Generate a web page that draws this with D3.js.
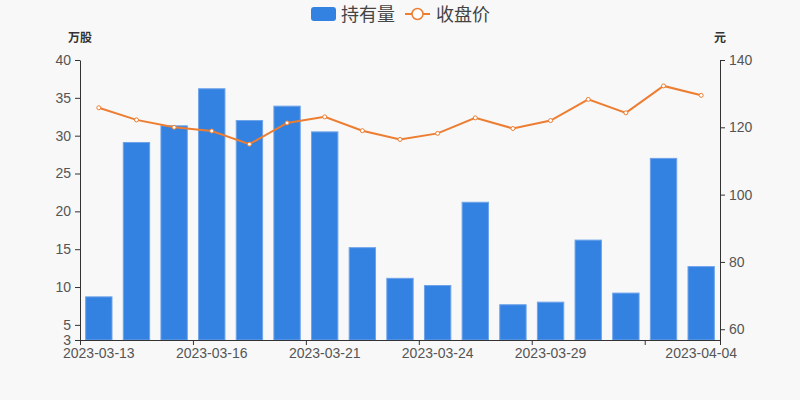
<!DOCTYPE html>
<html>
<head>
<meta charset="utf-8">
<script src="https://cdn.jsdelivr.net/npm/d3@7/dist/d3.min.js"></script>
<style>
  body { margin: 0; background: #f8f8f8; }
  svg { display: block; font-family: "Liberation Sans", "Noto Sans CJK SC", sans-serif; }
  .axis path, .axis line { stroke: #333; }
  .axis text { fill: #555; font-size: 14px; }
  .axisName { font-family: "Noto Sans CJK SC", sans-serif; font-size: 12px; font-weight: bold; fill: #333; }
  .legend text { font-family: "Noto Sans CJK SC", sans-serif; font-size: 18px; fill: #444; }
</style>
</head>
<body>
<svg id="chart"></svg>
<script>
// data
var dates = ["2023-03-13","2023-03-14","2023-03-15","2023-03-16","2023-03-17","2023-03-20",
             "2023-03-21","2023-03-22","2023-03-23","2023-03-24","2023-03-27","2023-03-28",
             "2023-03-29","2023-03-30","2023-03-31","2023-04-03","2023-04-04"];
var holdings = [8.7, 29.1, 31.3, 36.2, 32.0, 33.9, 30.5, 15.2, 11.15, 10.2, 21.2, 7.66, 8.0, 16.2, 9.2, 27.0, 12.7];
var closePrice = [125.8, 122.2, 120.0, 118.9, 115.0, 121.3, 123.1, 119.0, 116.4, 118.2, 122.8, 119.65, 122.0, 128.3, 124.3, 132.3, 129.5];
var leftTicks = [3, 5, 10, 15, 20, 25, 30, 35, 40];
var rightTicks = [60, 80, 100, 120, 140];
var labelDates = ["2023-03-13","2023-03-16","2023-03-21","2023-03-24","2023-03-29","2023-04-04"];
var boundaryTicks = [0, 3, 6, 9, 12, 15, 17];

var W = 800, H = 400;
var margin = {top: 60, right: 80, bottom: 60, left: 80},
    w = W - margin.left - margin.right,
    h = H - margin.top - margin.bottom;

var svg = d3.select("#chart").attr("width", W).attr("height", H);
var g = svg.append("g").attr("transform", "translate(" + margin.left + "," + margin.top + ")");

var xScale = d3.scaleBand().domain(dates).range([0, w]).paddingInner(0.3).paddingOuter(0.15);
var xBound = d3.scaleLinear().domain([0, dates.length]).range([0, w]);
var yLeft = d3.scaleLinear().domain([3, 40]).range([h, 0]);
var yRight = d3.scaleLinear().domain([56.8, 140]).range([h, 0]);

// bars
g.selectAll("rect.bar")
  .data(holdings)
  .enter()
  .append("rect")
  .attr("class", "bar")
  .attr("x", function(d, i) { return xScale(dates[i]); })
  .attr("y", function(d) { return yLeft(d); })
  .attr("width", xScale.bandwidth())
  .attr("height", function(d) { return h - yLeft(d); })
  .style("fill", "#3382e2")
  .style("stroke", "#6ea3ea")
  .style("stroke-width", 1);

// x axis: ticks on category boundaries, labels on centres
g.append("g")
  .attr("class", "axis")
  .attr("transform", "translate(0," + h + ")")
  .call(d3.axisBottom(xBound).tickValues(boundaryTicks).tickFormat("").tickSize(5).tickSizeOuter(0));

var xLab = g.append("g")
  .attr("class", "axis")
  .attr("transform", "translate(0," + h + ")")
  .call(d3.axisBottom(xScale).tickValues(labelDates).tickSize(0).tickPadding(8));
xLab.select(".domain").remove();

// left axis
g.append("g")
  .attr("class", "axis")
  .call(d3.axisLeft(yLeft).tickValues(leftTicks).tickSize(5).tickSizeOuter(0).tickPadding(4));

// right axis
g.append("g")
  .attr("class", "axis")
  .attr("transform", "translate(" + w + ",0)")
  .call(d3.axisRight(yRight).tickValues(rightTicks).tickSize(5).tickSizeOuter(0).tickPadding(4));

// axis names
svg.append("text").attr("class", "axisName")
  .attr("x", margin.left).attr("y", 42).attr("text-anchor", "middle").text("万股");
svg.append("text").attr("class", "axisName")
  .attr("x", margin.left + w).attr("y", 42).attr("text-anchor", "middle").text("元");

// price line
var line = d3.line()
  .x(function(d, i) { return xScale(dates[i]) + xScale.bandwidth() / 2; })
  .y(function(d) { return yRight(d); });

g.append("path")
  .datum(closePrice)
  .attr("d", line)
  .style("fill", "none")
  .style("stroke", "#ed7d31")
  .style("stroke-width", 2);

g.selectAll("circle.pt")
  .data(closePrice)
  .enter()
  .append("circle")
  .attr("class", "pt")
  .attr("cx", function(d, i) { return xScale(dates[i]) + xScale.bandwidth() / 2; })
  .attr("cy", function(d) { return yRight(d); })
  .attr("r", 2)
  .style("fill", "#fff")
  .style("stroke", "#ed7d31")
  .style("stroke-width", 1);

// legend
var legend = svg.append("g").attr("class", "legend");
legend.append("rect")
  .attr("x", 311).attr("y", 7).attr("width", 25).attr("height", 14).attr("rx", 3)
  .style("fill", "#3382e2");
legend.append("text").attr("x", 341).attr("y", 21).text("持有量");
legend.append("line")
  .attr("x1", 405).attr("x2", 430).attr("y1", 14).attr("y2", 14)
  .style("stroke", "#ed7d31").style("stroke-width", 2);
legend.append("circle")
  .attr("cx", 417.5).attr("cy", 14).attr("r", 5.5)
  .style("fill", "#fff").style("stroke", "#ed7d31").style("stroke-width", 1.5);
legend.append("text").attr("x", 436).attr("y", 21).text("收盘价");
</script>
</body>
</html>
